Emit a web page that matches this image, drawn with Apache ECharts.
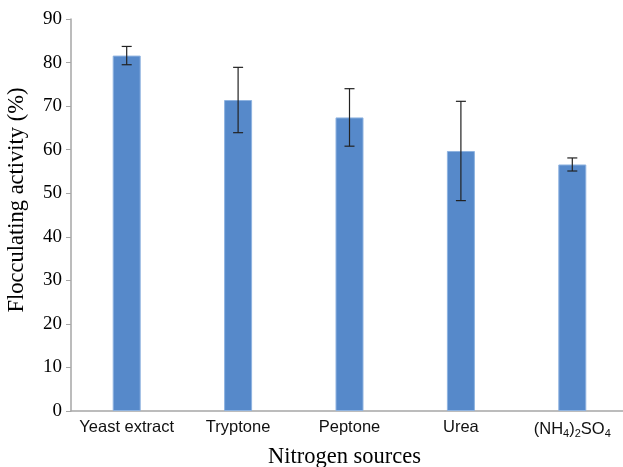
<!DOCTYPE html>
<html><head><meta charset="utf-8">
<script src="https://cdn.jsdelivr.net/npm/echarts@6/dist/echarts.min.js"></script>
<style>html,body{margin:0;padding:0;background:#fff}#c{width:623px;height:467px}</style>
</head><body><div id="c"></div>
<script>
const categories = ['Yeast extract', 'Tryptone', 'Peptone', 'Urea', '(NH4)2SO4'];
const values = [81.6, 71.4, 67.4, 59.7, 56.6];
const errors = [2.1, 7.5, 6.6, 11.4, 1.5];
const yTicks = [0, 10, 20, 30, 40, 50, 60, 70, 80, 90];

const chart = echarts.init(document.getElementById('c'));
const errData = values.map((v, i) => [i, v - errors[i], v + errors[i]]);
chart.setOption({
  animation: false,
  grid: { left: 71, top: 19, width: 557, height: 392, containLabel: false, outerBoundsMode: 'none' },
  xAxis: {
    type: 'category', data: categories,
    name: 'Nitrogen sources', nameLocation: 'middle', nameGap: 35,
    nameTextStyle: { fontFamily: 'Liberation Serif', fontSize: 22.5, color: '#000', padding: [0, 10, 0, 0] },
    axisLine: { lineStyle: { color: '#a6a6a6', width: 1.5 } },
    axisTick: { show: false },
    axisLabel: {
      interval: 0,
      color: '#111', fontFamily: 'Liberation Sans', fontSize: 16.5, margin: 8,
      formatter: function (v) {
        if (v === '(NH4)2SO4') return '(NH{s|4}){s|2}SO{s|4}';
        return v;
      },
      rich: { s: { fontSize: 11, verticalAlign: 'bottom', padding: [9, 0, 0, 0], fontFamily: 'Liberation Sans', color: '#111' } }
    }
  },
  yAxis: {
    type: 'value', min: yTicks[0], max: yTicks[yTicks.length - 1], interval: 10,
    name: 'Flocculating activity (%)', nameLocation: 'middle', nameGap: 42,
    nameTextStyle: { fontFamily: 'Liberation Serif', fontSize: 22.5, color: '#000', padding: [0, 0, 0, 30] },
    axisLine: { show: true, lineStyle: { color: '#a6a6a6', width: 1.5 } },
    axisTick: { show: true, length: 5, lineStyle: { color: '#a6a6a6' } },
    splitLine: { show: false },
    axisLabel: { color: '#000', fontFamily: 'Liberation Serif', fontSize: 19, margin: 9 }
  },
  series: [
    {
      type: 'bar', data: values, barWidth: 28,
      itemStyle: { color: '#5689ca', borderColor: '#8fb3e0', borderWidth: 1 }
    },
    {
      type: 'custom', data: errData, z: 10,
      renderItem: function (params, api) {
        const x = api.value(0);
        const lo = api.coord([x, api.value(1)]);
        const hi = api.coord([x, api.value(2)]);
        const hw = 5;
        const st = { stroke: '#222', lineWidth: 1.2 };
        return {
          type: 'group', children: [
            { type: 'line', shape: { x1: lo[0], y1: lo[1], x2: hi[0], y2: hi[1] }, style: st },
            { type: 'line', shape: { x1: lo[0] - hw, y1: lo[1], x2: lo[0] + hw, y2: lo[1] }, style: st },
            { type: 'line', shape: { x1: hi[0] - hw, y1: hi[1], x2: hi[0] + hw, y2: hi[1] }, style: st }
          ]
        };
      }
    }
  ]
});
</script></body></html>
